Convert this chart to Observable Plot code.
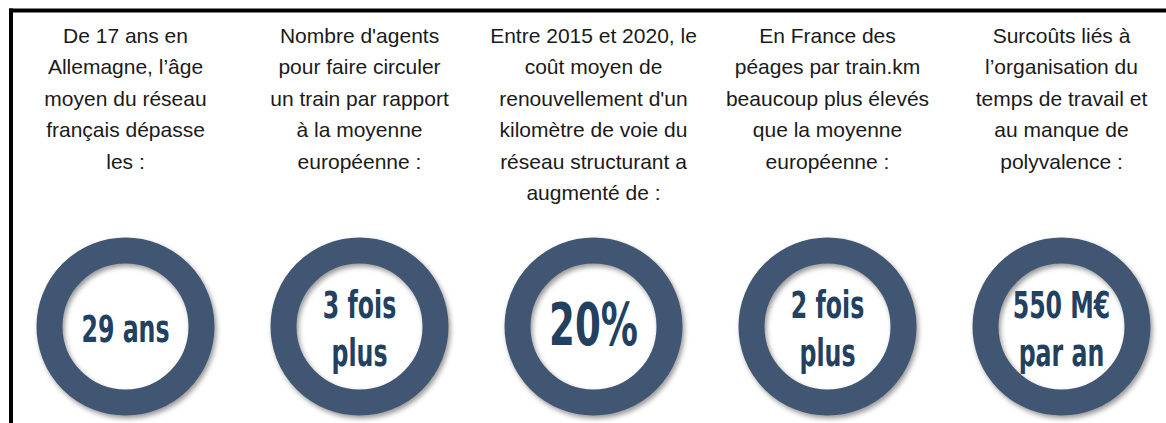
<!DOCTYPE html>
<html>
<head>
<meta charset="utf-8">
<script src="https://cdn.jsdelivr.net/npm/d3@7"></script>
<script src="https://cdn.jsdelivr.net/npm/@observablehq/plot@0.6"></script>
<style>
  html, body { margin: 0; padding: 0; background: #ffffff; }
  #chart svg { display: block; }
</style>
</head>
<body>
<div id="chart"></div>
<script>
const categories = ["age", "agents", "cout", "peages", "surcouts"];
const questions = [
  "De 17 ans en\nAllemagne, l’âge\nmoyen du réseau\nfrançais dépasse\nles :",
  "Nombre d'agents\npour faire circuler\nun train par rapport\nà la moyenne\neuropéenne :",
  "Entre 2015 et 2020, le\ncoût moyen de\nrenouvellement d'un\nkilomètre de voie du\nréseau structurant a\naugmenté de :",
  "En France des\npéages par train.km\nbeaucoup plus élevés\nque la moyenne\neuropéenne :",
  "Surcoûts liés à\nl’organisation du\ntemps de travail et\nau manque de\npolyvalence :"
];
const valeurs = ["29 ans", "3 fois\nplus", "20%", "2 fois\nplus", "550 M€\npar an"];

const rows = categories.map((c, i) => ({ id: c, question: questions[i], valeur: valeurs[i] }));
const bigRows = rows.filter(d => !d.valeur.includes("\n") && d.valeur.length <= 3);
const normalRows = rows.filter(d => !bigRows.includes(d));

const ringColor = "#415672";
const valueColor = "#22405f";
const valueFont = "'DejaVu Sans', sans-serif";

const chart = Plot.plot({
  width: 1166,
  height: 423,
  marginTop: 10,
  marginLeft: 10.5,
  marginRight: 0,
  marginBottom: 0,
  x: { type: "point", domain: categories, range: [124, 1061], padding: 0, axis: null },
  y: { type: "point", domain: ["question", "valeur"], range: [20, 326], padding: 0, axis: null },
  marks: [
    Plot.frame({ anchor: "top", stroke: "#000", strokeWidth: 4, strokeLinecap: "square" }),
    Plot.frame({ anchor: "left", stroke: "#000", strokeWidth: 4, strokeLinecap: "square" }),
    Plot.text(rows, {
      x: "id", y: () => "question", text: "question",
      lineAnchor: "top", lineHeight: 1.5,
      fontSize: 21, fontFamily: "'Liberation Sans', Arial, sans-serif",
      fill: "#1a1a1a"
    }),
    Plot.dot(rows, {
      x: "id", y: () => "valeur", r: 76,
      fill: "none", stroke: ringColor, strokeWidth: 26
    }),
    Plot.text(normalRows, {
      x: "id", y: () => "valeur", text: "valeur",
      lineAnchor: "middle", lineHeight: 1.3,
      fontSize: 37, fontWeight: "bold", fontFamily: valueFont,
      fill: valueColor
    }),
    Plot.text(bigRows, {
      x: "id", y: () => "valeur", text: "valeur",
      lineAnchor: "middle",
      fontSize: 58, fontWeight: "bold", fontFamily: valueFont,
      fill: valueColor
    })
  ]
});

const dotGroup = chart.querySelector('g[aria-label="dot"]');
if (dotGroup) dotGroup.style.filter = "drop-shadow(2px 3px 2.5px rgba(0,0,0,0.4))";

// condense the value labels horizontally (narrow display face)
const textGroups = chart.querySelectorAll('g[aria-label="text"]');
textGroups.forEach((g, i) => {
  if (i === 0) return;
  g.querySelectorAll("text").forEach(t => {
    const tr = t.getAttribute("transform") || "";
    t.setAttribute("transform", tr + " scale(0.64,1)");
  });
});

document.getElementById("chart").appendChild(chart);
</script>
</body>
</html>
